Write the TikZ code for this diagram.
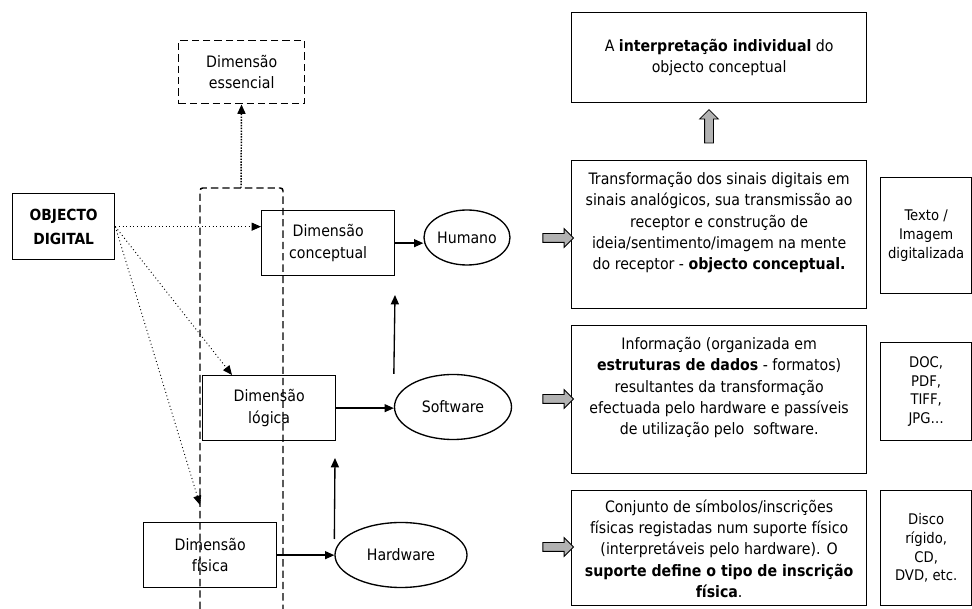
\documentclass[tikz,border=0pt]{standalone}
\usepackage{fontspec}
\setmainfont{DejaVu Sans Condensed}
\usetikzlibrary{arrows.meta,shapes.geometric,shapes.arrows,positioning}
\newcommand{\toptext}[2]{\parbox[c][#1][t]{212pt}{\centering\strut #2}}

\begin{document}
\begin{tikzpicture}
[x=0.75pt, y=-0.75pt, font=\fontsize{11.8}{16}\selectfont, line width=1pt, >={Triangle[length=7pt,width=6pt]},
box/.style={rectangle, draw, anchor=north west, align=center, inner sep=2pt},
dimbox/.style={box, minimum width=99.75pt, minimum height=48.75pt},
oval/.style={ellipse, draw, inner sep=0pt},
textbox/.style={box, inner xsep=4.6pt, inner ysep=6.8pt},
smallbox/.style={box, minimum width=68.25pt, font=\fontsize{11}{14}\selectfont},
dashbox/.style={dash pattern=on 5.5pt off 3pt, line width=1.1pt},
dotarrow/.style={->, dotted, line width=0.7pt},
grayarrow/.style={single arrow, draw, fill=gray!60, line width=0.6pt, inner sep=3pt, minimum width=13.5pt, minimum height=23pt, single arrow head extend=3.75pt}]

\useasboundingbox (0,0) rectangle (972,609);

\node[box, minimum width=76.5pt, minimum height=49.5pt, font=\fontsize{11.5}{18}\selectfont\bfseries] (obj) at (12,193) {OBJECTO\\DIGITAL};
\node[box, dashbox, minimum width=94.5pt, minimum height=47.25pt] (essencial) at (178,40) {Dimensão\\essencial};

\draw[dashbox, rounded corners=2pt] (200,609) -- (200,188) -- (283,188) -- (283,609);
\coordinate (dtop) at (241,188);
\draw[->, densely dotted, line width=1.1pt] (dtop) -- (essencial);

\node[dimbox] (conc) at (261,210) {Dimensão\\conceptual};
\node[oval, minimum width=64.5pt, minimum height=41.25pt] (hum) at (467,237.5) {Humano};
\node[dimbox] (logica) at (202,375) {Dimensão\\lógica};
\node[oval, minimum width=87.75pt, minimum height=48.75pt] (soft) at (453,407) {Software};
\node[dimbox] (fisica) at (143,522) {Dimensão\\física};
\node[oval, minimum width=99pt, minimum height=48.75pt] (hard) at (401,555) {Hardware};

\draw[->] (conc.east) -- (conc.east -| hum.west);
\draw[->] (logica.east) -- (logica.east -| soft.west);
\draw[->] (fisica.east) -- (fisica.east -| hard.west);

\coordinate (swup) at (395,295);
\draw[->] (soft.west |- soft.north) -- (swup);
\coordinate (hwup) at (335,458);
\draw[->] ([yshift=12pt]hard.west) -- (hwup);

\draw[dotarrow] (obj.east) -- (obj.east -| conc.west);
\coordinate (logtip) at (232,375);
\draw[dotarrow] (obj.east) -- (logtip);
\coordinate (fistip) at (200,505);
\draw[dotarrow] (obj.east) -- (fistip);

\node[box, minimum width=221.25pt, minimum height=67.5pt] (interp) at (571,12) {A \textbf{interpretação individual} do\\objecto conceptual};
\node[grayarrow, shape border rotate=90, minimum height=25pt] (upg) at (709,128.5) {};

\node[textbox] (t1) at (571,160) {\toptext{97.4pt}{Transformação dos sinais digitais em\\sinais analógicos, sua transmissão ao\\receptor e construção de\\ideia/sentimento/imagem na mente\\do receptor - \textbf{objecto conceptual.}}};
\node[textbox] (t2) at (571,325) {\toptext{97.4pt}{Informação (organizada em\\\textbf{estruturas de dados} - formatos)\\resultantes da transformação\\efectuada pelo hardware e passíveis\\de utilização pelo\ \ software.}};
\node[textbox, inner ysep=5pt] (t3) at (571,490) {\toptext{76.25pt}{Conjunto de símbolos/inscrições\\físicas registadas num suporte físico\\(interpretáveis pelo hardware). O\\\textbf{suporte define o tipo de inscrição}\\\textbf{física}.}};

\node[smallbox, minimum height=87pt] (s1) at (880,177) {Texto /\\Imagem\\digitalizada};
\node[smallbox, minimum height=73.5pt] (s2) at (880,342) {DOC,\\PDF,\\TIFF,\\JPG\ldots};
\node[smallbox, minimum height=86.25pt] (s3) at (880,490) {Disco\\rígido,\\CD,\\DVD, etc.};

\node[grayarrow] (g1) at (556,238) {};
\node[grayarrow] (g2) at (556,399) {};
\node[grayarrow] (g3) at (556,547) {};
\end{tikzpicture}
\end{document}
